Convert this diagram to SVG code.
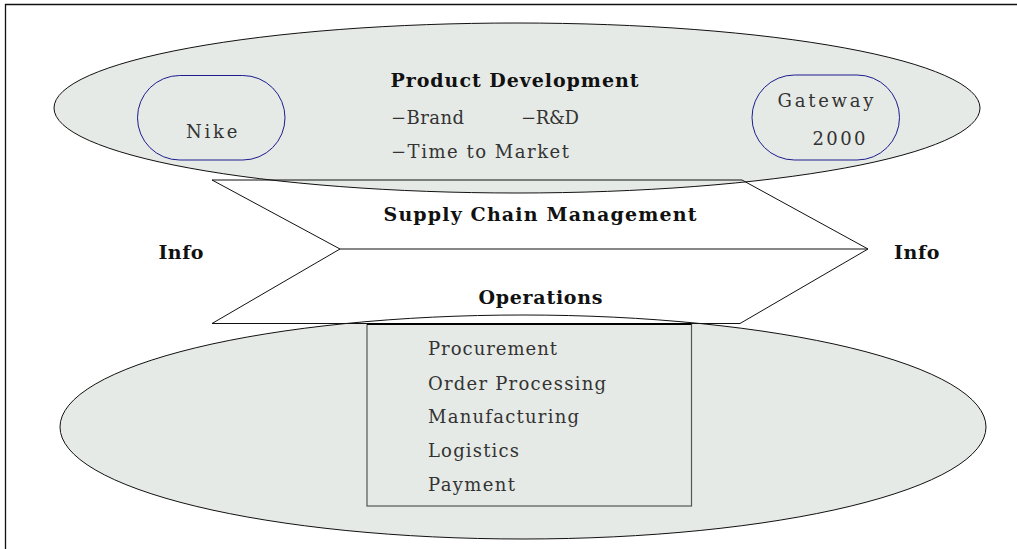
<svg xmlns="http://www.w3.org/2000/svg" width="1017" height="549" viewBox="0 0 1017 549">
<style>
.ell{fill:#e6eae6;stroke:none}
.ellS{fill:none;stroke:#111;stroke-width:1}
.pill{fill:none;stroke:#1c1c8e;stroke-width:1}
.t{font-family:"DejaVu Serif","Liberation Serif",serif;font-size:18px;fill:#333}
.b{font-family:"DejaVu Serif","Liberation Serif",serif;font-size:19px;font-weight:bold;fill:#111}
</style>
<rect x="0" y="0" width="1017" height="549" fill="#fff"/>
<path d="M5.5,549 V4.5 H1017" fill="none" stroke="#111" stroke-width="1.3"/>
<g id="operations-ellipse">
<ellipse class="ell" cx="523" cy="427" rx="463" ry="112"/>
</g>
<g id="scm-chevron">
<polygon points="212,180 742,180 868,249 740,323.5 212,323.5 340,249" fill="#fff" stroke="none"/>
</g>
<g id="product-ellipse">
<ellipse class="ell" cx="517" cy="108" rx="463" ry="85"/>
<ellipse class="ellS" cx="517" cy="108" rx="463" ry="85"/>
</g>
<g id="connectors">
<ellipse class="ellS" cx="523" cy="427" rx="463" ry="112"/>
<polygon points="212,180 742,180 868,249 740,323.5 212,323.5 340,249" fill="none" stroke="#111" stroke-width="1"/>
<line x1="340" y1="249" x2="868" y2="249" stroke="#111" stroke-width="1.2"/>
</g>
<g id="ops-box">
<rect x="367" y="324" width="324.5" height="182" fill="#e6eae6" stroke="#555" stroke-width="1.2"/>
<line x1="367" y1="324" x2="691.5" y2="324" stroke="#000" stroke-width="2.2"/>
<text class="t" x="428" y="355" textLength="129" lengthAdjust="spacing">Procurement</text>
<text class="t" x="428" y="390" textLength="178" lengthAdjust="spacing">Order Processing</text>
<text class="t" x="428" y="423" textLength="151" lengthAdjust="spacing">Manufacturing</text>
<text class="t" x="428" y="457" textLength="91" lengthAdjust="spacing">Logistics</text>
<text class="t" x="428" y="491" textLength="87" lengthAdjust="spacing">Payment</text>
</g>
<g id="nike">
<rect class="pill" x="137.5" y="75.5" width="147.5" height="84.5" rx="42.25"/>
<text class="t" x="186" y="138" textLength="51.5" lengthAdjust="spacing">Nike</text>
</g>
<g id="gateway">
<rect class="pill" x="752" y="75" width="147.5" height="85" rx="42.5"/>
<text class="t" x="777.5" y="107" textLength="96" lengthAdjust="spacing">Gateway</text>
<text class="t" x="812.5" y="145" textLength="53" lengthAdjust="spacing">2000</text>
</g>
<g id="product-development">
<text class="b" x="390.5" y="87" textLength="248" lengthAdjust="spacing">Product Development</text>
<text class="t" x="391" y="124" textLength="73" lengthAdjust="spacing">−Brand</text>
<text class="t" x="521" y="124" textLength="58" lengthAdjust="spacing">−R&amp;D</text>
<text class="t" x="391" y="157.5" textLength="178" lengthAdjust="spacing">−Time to Market</text>
</g>
<g id="labels">
<text class="b" x="383.5" y="221" textLength="313" lengthAdjust="spacing">Supply Chain Management</text>
<text class="b" x="478.5" y="303.5" textLength="124" lengthAdjust="spacing">Operations</text>
<text class="b" x="158.5" y="259" textLength="45" lengthAdjust="spacing">Info</text>
<text class="b" x="894" y="258.5" textLength="45.5" lengthAdjust="spacing">Info</text>
</g>
</svg>
